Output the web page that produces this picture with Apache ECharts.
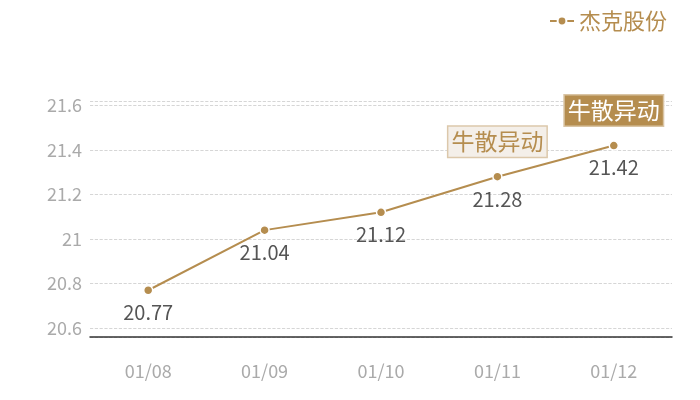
<!DOCTYPE html>
<html>
<head>
<meta charset="utf-8">
<script src="https://cdn.jsdelivr.net/npm/echarts@6/dist/echarts.min.js"></script>
<style>
  html, body { margin: 0; padding: 0; background: #fff; }
  #chart { width: 700px; height: 400px; }
</style>
</head>
<body>
<div id="chart"></div>
<script>
const dates = ['01/08', '01/09', '01/10', '01/11', '01/12'];
const prices = [20.77, 21.04, 21.12, 21.28, 21.42];
const seriesName = '杰克股份';
// marks: [date, value, label, filled?]
const alerts = [
    ['01/11', 21.28, '牛散异动', false],
    ['01/12', 21.42, '牛散异动', true]
];

const gold = '#b58d4f';
const font = '"Noto Sans CJK SC", "Noto Sans", sans-serif';

var myChart = echarts.init(document.getElementById('chart'));

var option = {
    textStyle: { fontFamily: font },
    legend: {
        right: 28,
        top: 5,
        itemWidth: 24,
        itemHeight: 11,
        itemGap: 8,
        textStyle: { color: gold, fontSize: 22, fontFamily: font },
        data: [seriesName]
    },
    grid: { left: 90, right: 28, top: 101, bottom: 63 },
    xAxis: {
        type: 'category',
        data: dates,
        axisLine: { lineStyle: { color: '#333', width: 1.5 } },
        axisTick: { show: false },
        axisLabel: { color: '#aaa', fontSize: 18, margin: 25, fontFamily: font }
    },
    yAxis: {
        type: 'value',
        min: 20.56,
        max: 21.62,
        splitNumber: 5,
        axisLine: { show: false },
        axisTick: { show: false },
        axisLabel: {
            color: '#aaa', fontSize: 18, margin: 8, fontFamily: font,
            showMinLabel: false, showMaxLabel: false
        },
        splitLine: { lineStyle: { color: '#ccc', type: 'dashed', width: 0.8 } }
    },
    series: [
        {
            name: seriesName,
            type: 'line',
            data: prices,
            symbol: 'circle',
            symbolSize: 9,
            itemStyle: { color: gold, borderColor: '#fff', borderWidth: 1.5 },
            lineStyle: { color: gold, width: 2 },
            label: {
                show: true,
                position: 'bottom',
                distance: 7,
                color: '#555',
                fontSize: 20,
                fontFamily: font
            },
            markPoint: {
                symbol: 'rect',
                symbolSize: 0,
                data: alerts.map(a => ({
                    coord: [a[0], a[1]],
                    label: {
                        show: true,
                        formatter: a[2],
                        offset: [0, -35],
                        fontSize: 23,
                        fontFamily: font,
                        color: a[3] ? '#fff' : gold,
                        backgroundColor: a[3] ? gold : '#f4efe9',
                        borderColor: a[3] ? '#d9c4a4' : '#dcc8ab',
                        borderWidth: 1.5,
                        padding: [4, 3, 3, 3]
                    }
                }))
            }
        }
    ]
};
myChart.setOption(option);
</script>
</body>
</html>
